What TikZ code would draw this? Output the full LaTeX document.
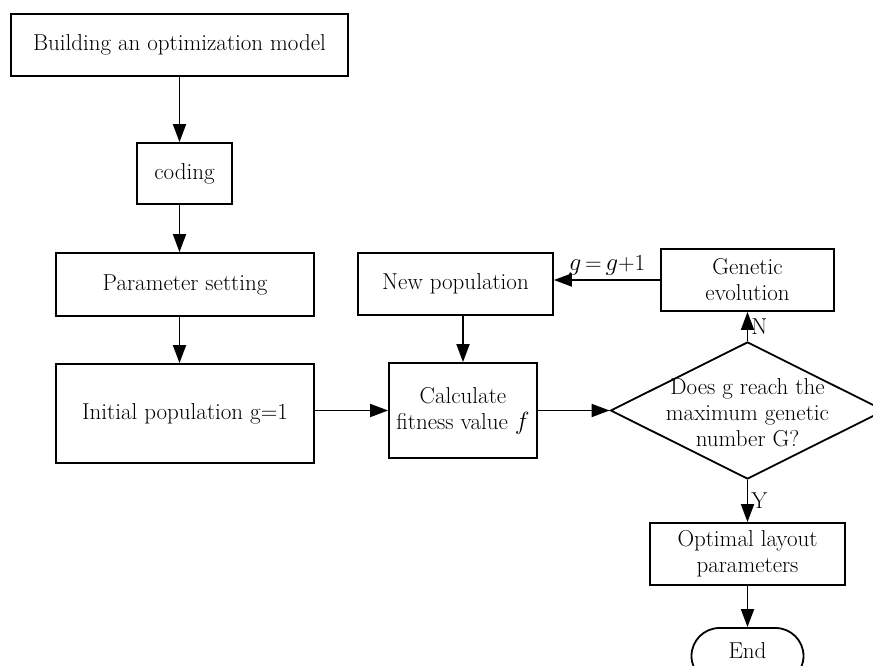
\documentclass[tikz,border=0pt]{standalone}
\usetikzlibrary{shapes.geometric,arrows.meta}
\begin{document}
\begin{tikzpicture}[x=1pt,y=-1pt,
  every node/.style={font=\fontsize{23}{26}\selectfont},
  box/.style={draw,line width=1.8pt,rectangle,align=center,inner sep=0pt},
  flow/.style={line width=1.8pt,-{Triangle[length=18pt,width=13pt]}},
  lbl/.style={inner sep=1pt}]
\useasboundingbox (0,0) rectangle (873,666);
\node[box,minimum width=337,minimum height=62] (model) at (179.5,45) {Building an optimization model};
\node[box,minimum width=95,minimum height=61] (coding) at (184.5,173.5) {coding};
\node[box,minimum width=258,minimum height=63] (param) at (185,284.5) {Parameter setting};
\node[box,minimum width=258,minimum height=99] (init) at (185,413.5) {Initial population g=1};
\node[box,minimum width=148,minimum height=95] (calc) at (463,410.5) {Calculate\\fitness value $f$};
\node[box,minimum width=195,minimum height=62] (newpop) at (455.5,284) {New population};
\node[box,minimum width=173,minimum height=62] (gen) at (747.5,280) {Genetic\\evolution};
\node[draw,line width=1.8pt,diamond,aspect=2,minimum width=274,minimum height=137,inner sep=0pt] (dia) at (747.5,410.5) {};
\node[align=center] (diatext) at (747.5,413) {Does g reach the\\maximum genetic\\number G?};
\node[box,minimum width=195,minimum height=62] (opt) at (747.5,554) {Optimal layout\\parameters};
\node[draw,line width=1.8pt,rectangle,rounded corners=28pt,minimum width=112,minimum height=56,inner sep=0pt] (endn) at (747.5,656) {};
\node (endtext) at (747.5,651) {End};
\draw[flow] (model.south) -- (model.south |- coding.north);
\draw[flow] (model.south |- coding.south) -- (model.south |- param.north);
\draw[flow] (model.south |- param.south) -- (model.south |- init.north);
\draw[flow] (init.east |- calc) -- (calc.west);
\draw[flow] (calc.east) -- (dia.west);
\draw[flow] (calc.north |- newpop.south) -- (calc.north);
\draw[flow] (gen.west) -- (gen.west -| newpop.east) node[lbl,midway,above=3pt] {$g$\,=\,$g$+1};
\draw[flow] (dia.north) -- (dia.north |- gen.south) node[lbl,pos=0.5,right=2pt] {N};
\draw[flow] (dia.south) -- (dia.south |- opt.north) node[lbl,pos=0.5,right=2pt] {Y};
\draw[flow] (opt.south) -- (endn.north);
\end{tikzpicture}
\end{document}
